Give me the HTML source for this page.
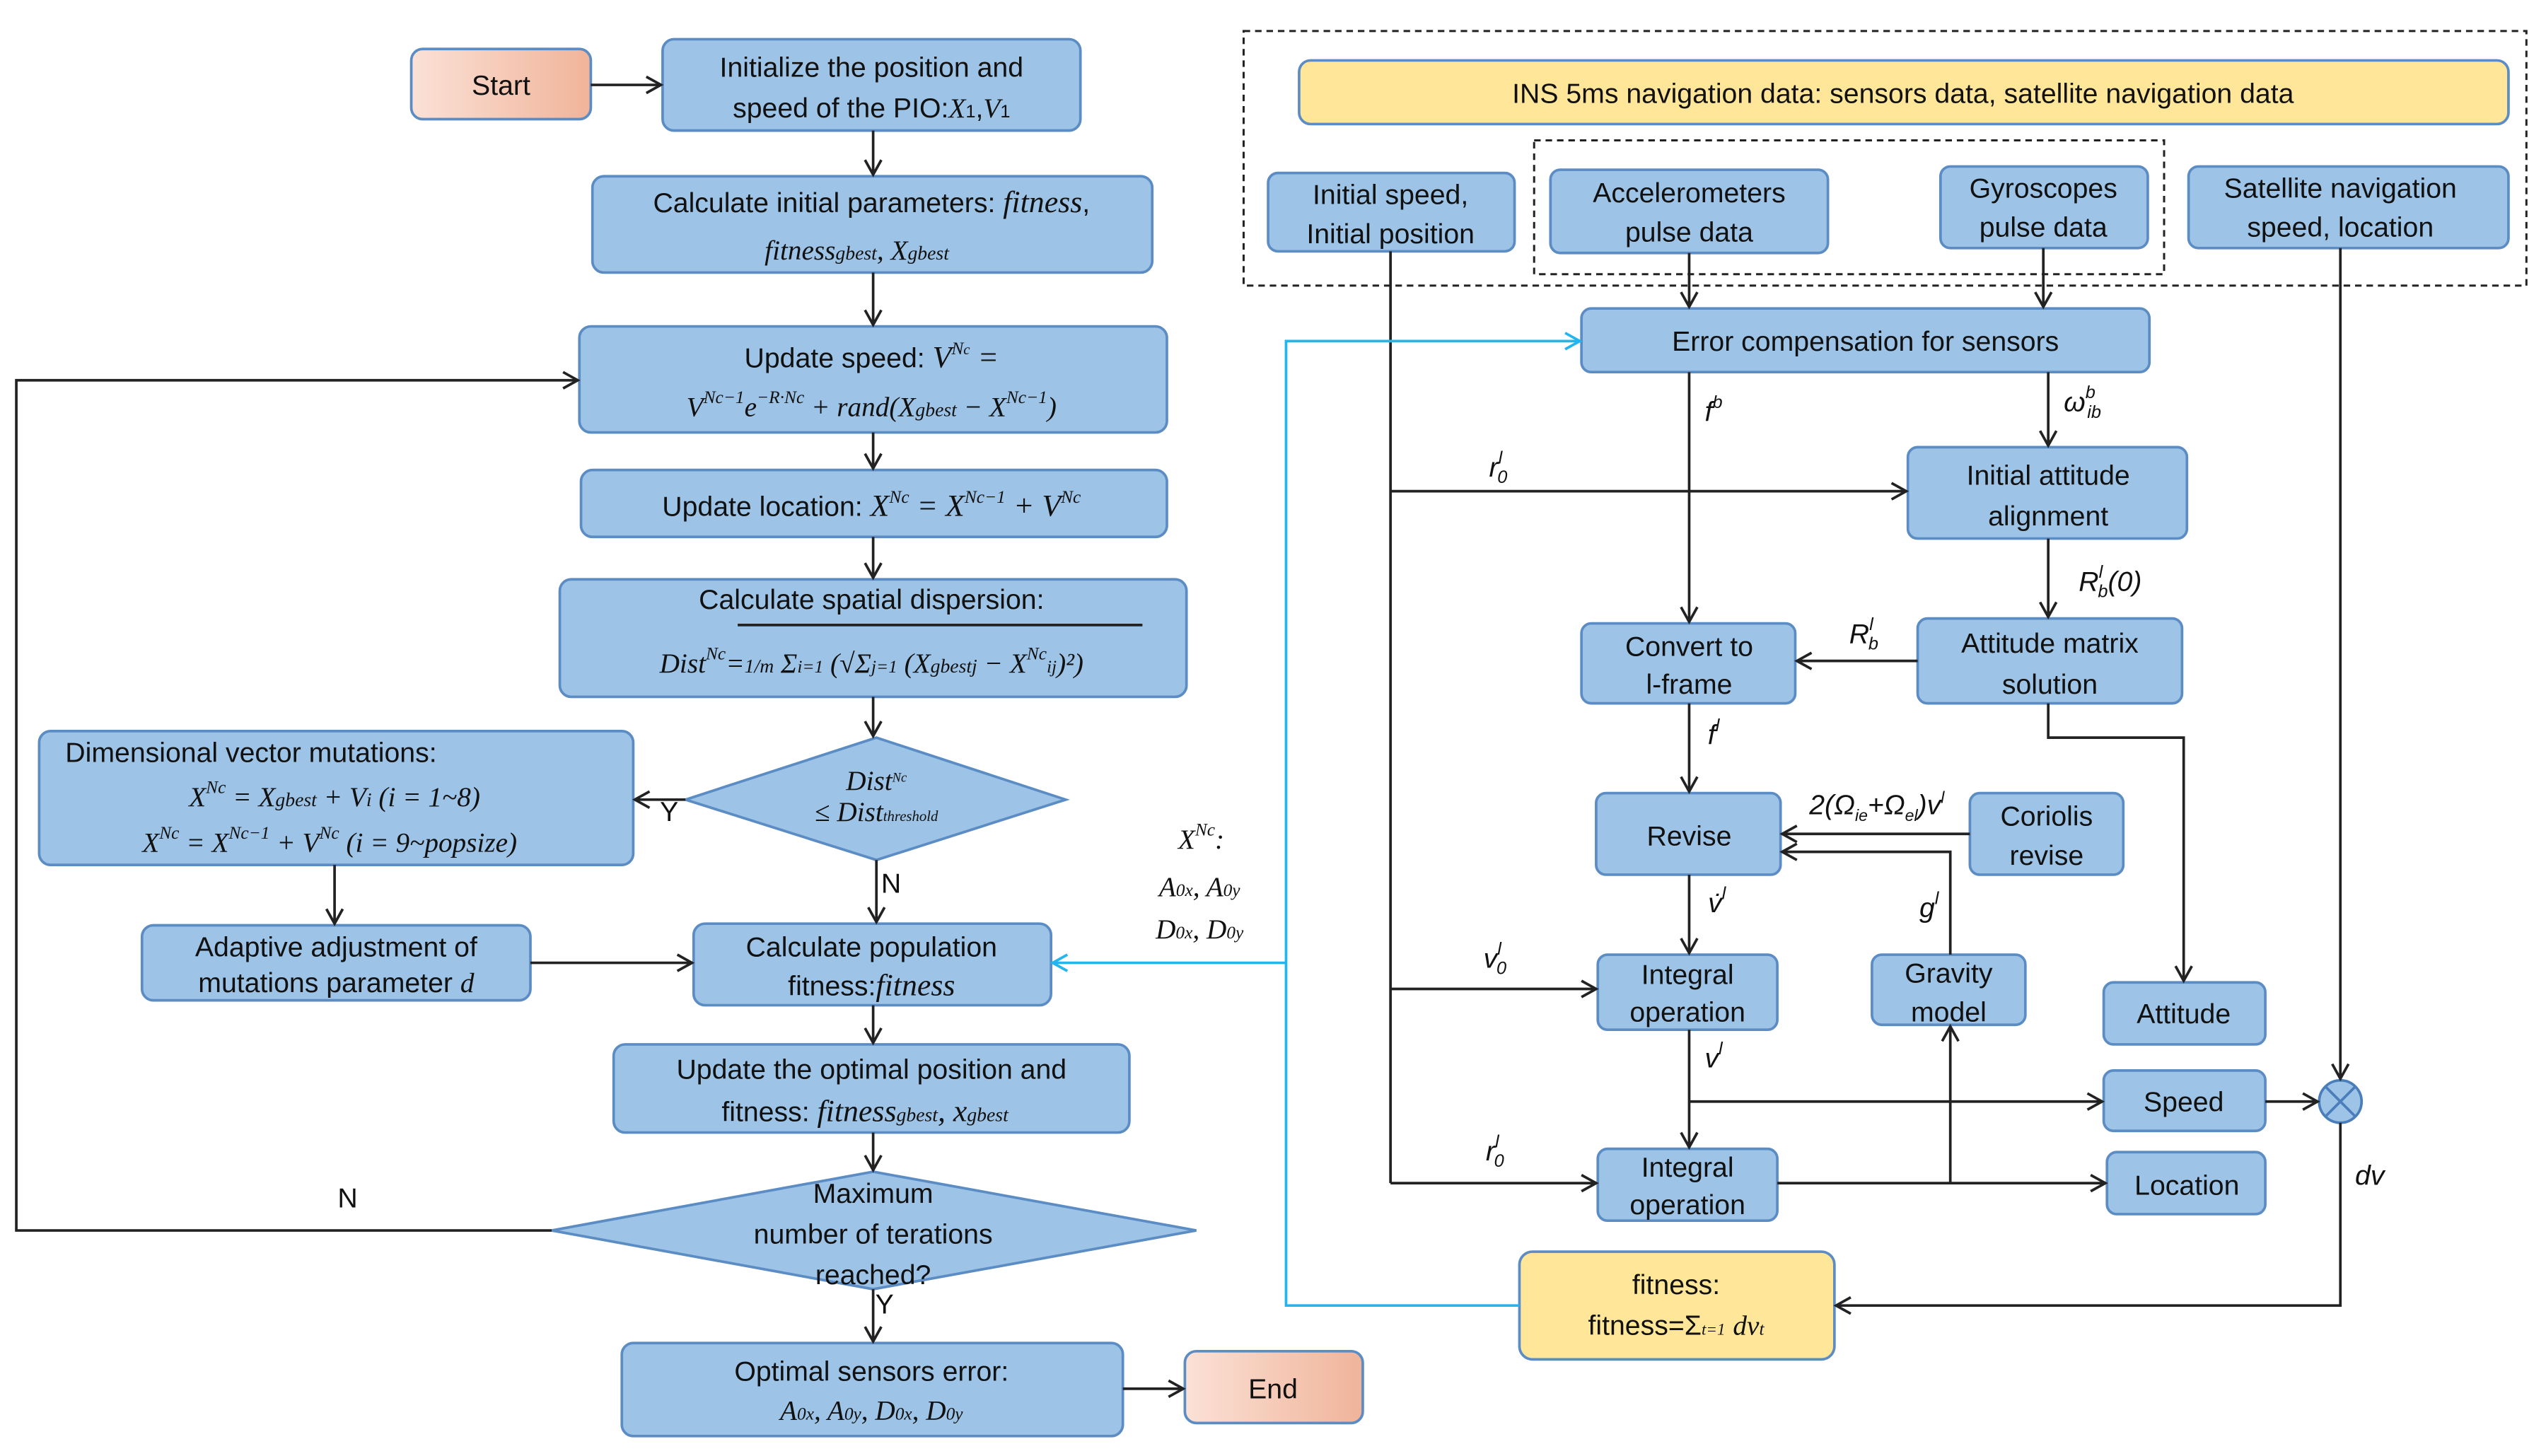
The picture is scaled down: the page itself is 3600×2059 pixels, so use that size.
<!DOCTYPE html>
<html><head><meta charset="utf-8"><style>
html,body{margin:0;padding:0;background:#fff}
svg{display:block}
text{font-family:"Liberation Sans",sans-serif;font-size:17px;fill:#111}
.m{font-family:"Liberation Serif",serif;font-style:italic}
.b{fill:#9dc3e6;stroke:#5b8cc4;stroke-width:1.6}
.y{fill:#ffe699;stroke:#5b8cc4;stroke-width:1.6}
.l{stroke:#222;stroke-width:1.6;fill:none}
.c{stroke:#22b5f0;stroke-width:1.6;fill:none}
</style></head><body>
<svg width="3600" height="2059" viewBox="0 0 1560 892.2" xmlns="http://www.w3.org/2000/svg">
<defs>
<linearGradient id="pg" x1="0" x2="1"><stop offset="0" stop-color="#fbe1d6"/><stop offset="1" stop-color="#f0b49a"/></linearGradient>
<marker id="a" markerWidth="12" markerHeight="12" refX="10" refY="6" orient="auto" markerUnits="userSpaceOnUse"><path d="M1,1 L10,6 L1,11" fill="none" stroke="#222" stroke-width="1.6"/></marker>
<marker id="ac" markerWidth="12" markerHeight="12" refX="10" refY="6" orient="auto" markerUnits="userSpaceOnUse"><path d="M1,1 L10,6 L1,11" fill="none" stroke="#22b5f0" stroke-width="1.6"/></marker>
</defs>
<g text-anchor="middle">
<!-- LEFT -->
<rect x="252" y="30" width="110" height="43" rx="7" fill="url(#pg)" stroke="#5b8cc4" stroke-width="1.6"/>
<text x="307" y="58">Start</text>
<rect class="b" x="406" y="24" width="256" height="56" rx="7"/>
<text x="534" y="47">Initialize the position and</text>
<text x="534" y="72">speed of the PIO:<tspan class="m">X</tspan><tspan font-size="11">1</tspan>,<tspan class="m">V</tspan><tspan font-size="11">1</tspan></text>
<rect class="b" x="363" y="108" width="343" height="59" rx="7"/>
<text x="534" y="130">Calculate initial parameters: <tspan class="m" font-size="19">fitness</tspan>,</text>
<text x="525" y="159" class="m" font-size="19">fitness<tspan font-size="12">gbest</tspan>,  X<tspan font-size="12">gbest</tspan></text>
<rect class="b" x="355" y="200" width="360" height="65" rx="7"/>
<text x="534" y="225">Update speed:  <tspan class="m" font-size="19">V<tspan font-size="11" dy="-8">N</tspan><tspan font-size="9">c</tspan><tspan dy="8"> =</tspan></tspan></text>
<text x="534" y="255" class="m" font-size="19">V<tspan font-size="11" dy="-8">Nc−1</tspan><tspan dy="8">e</tspan><tspan font-size="11" dy="-8">−R·Nc</tspan><tspan dy="8"> + rand(X</tspan><tspan font-size="12">gbest</tspan> − X<tspan font-size="11" dy="-8">Nc−1</tspan><tspan dy="8">)</tspan></text>
<rect class="b" x="356" y="288" width="359" height="41" rx="7"/>
<text x="534" y="316">Update location:  <tspan class="m" font-size="19">X<tspan font-size="11" dy="-8">Nc</tspan><tspan dy="8"> = X</tspan><tspan font-size="11" dy="-8">Nc−1</tspan><tspan dy="8"> + V</tspan><tspan font-size="11" dy="-8">Nc</tspan></tspan></text>
<rect class="b" x="343" y="355" width="384" height="72" rx="7"/>
<text x="534" y="373">Calculate spatial dispersion:</text>
<text x="534" y="412" class="m" font-size="19">Dist<tspan font-size="11" dy="-8">Nc</tspan><tspan dy="8">=</tspan><tspan font-size="12">1/m</tspan> Σ<tspan font-size="11">i=1</tspan> (√Σ<tspan font-size="11">j=1</tspan> (X<tspan font-size="12">gbestj</tspan> − X<tspan font-size="11" dy="-8">Nc</tspan><tspan font-size="11" dy="8">ij</tspan>)²)</text>
<path class="l" d="M452,383 H700"/>
<polygon class="b" points="537,452 653,490 537,527 420,490"/>
<text x="537" y="484" class="m" font-size="12">Dist<tspan font-size="8" dy="-5">Nc</tspan></text>
<text x="537" y="503" class="m" font-size="12"><tspan>≤ Dist</tspan><tspan font-size="9">threshold</tspan></text>
<rect class="b" x="24" y="448" width="364" height="82" rx="7"/>
<text x="40" y="467" text-anchor="start">Dimensional vector mutations:</text>
<text x="205" y="494" class="m" font-size="19">X<tspan font-size="11" dy="-8">Nc</tspan><tspan dy="8"> = X</tspan><tspan font-size="12">gbest</tspan> + V<tspan font-size="12">i</tspan>  (i = 1~8)</text>
<text x="202" y="522" class="m" font-size="19">X<tspan font-size="11" dy="-8">Nc</tspan><tspan dy="8"> = X</tspan><tspan font-size="11" dy="-8">Nc−1</tspan><tspan dy="8"> + V</tspan><tspan font-size="11" dy="-8">Nc</tspan><tspan dy="8">  (i = 9~popsize)</tspan></text>
<rect class="b" x="87" y="567" width="238" height="46" rx="7"/>
<text x="206" y="586">Adaptive adjustment of</text>
<text x="206" y="608">mutations parameter <tspan class="m">d</tspan></text>
<rect class="b" x="425" y="566" width="219" height="50" rx="7"/>
<text x="534" y="586">Calculate population</text>
<text x="534" y="610">fitness:<tspan class="m" font-size="19">fitness</tspan></text>
<rect class="b" x="376" y="640" width="316" height="54" rx="7"/>
<text x="534" y="661">Update the optimal position and</text>
<text x="530" y="687">fitness:  <tspan class="m" font-size="19">fitness<tspan font-size="12">gbest</tspan>,  x<tspan font-size="12">gbest</tspan></tspan></text>
<polygon class="b" points="535,718 733,754 535,790 338,754"/>
<text x="535" y="737">Maximum</text>
<text x="535" y="762">number of terations</text>
<text x="535" y="787">reached?</text>
<rect class="b" x="381" y="823" width="307" height="57" rx="7"/>
<text x="534" y="846">Optimal sensors error:</text>
<text x="534" y="870" class="m" font-size="18">A<tspan font-size="11">0x</tspan>, A<tspan font-size="11">0y</tspan>, D<tspan font-size="11">0x</tspan>, D<tspan font-size="11">0y</tspan></text>
<rect x="726" y="828" width="109" height="44" rx="7" fill="url(#pg)" stroke="#5b8cc4" stroke-width="1.6"/>
<text x="780" y="857">End</text>
<!-- left arrows -->
<path class="l" marker-end="url(#a)" d="M362,52 H405"/>
<path class="l" marker-end="url(#a)" d="M535,80 V107"/>
<path class="l" marker-end="url(#a)" d="M535,167 V199"/>
<path class="l" marker-end="url(#a)" d="M535,265 V287"/>
<path class="l" marker-end="url(#a)" d="M535,329 V354"/>
<path class="l" marker-end="url(#a)" d="M535,427 V451"/>
<path class="l" marker-end="url(#a)" d="M537,527 V565"/>
<path class="l" marker-end="url(#a)" d="M535,616 V639"/>
<path class="l" marker-end="url(#a)" d="M535,694 V717"/>
<path class="l" marker-end="url(#a)" d="M535,790 V822"/>
<path class="l" marker-end="url(#a)" d="M688,851 H725"/>
<path class="l" marker-end="url(#a)" d="M420,490 H389"/>
<path class="l" marker-end="url(#a)" d="M205,530 V566"/>
<path class="l" marker-end="url(#a)" d="M325,590 H424"/>
<path class="l" marker-end="url(#a)" d="M338,754 H10 V233 H354"/>
<text x="213" y="740" font-size="14">N</text>
<text x="410" y="503" font-size="14">Y</text>
<text x="546" y="547" font-size="14">N</text>
<text x="542" y="805" font-size="14">Y</text>
<text x="736" y="520" class="m" font-size="18">X<tspan font-size="11" dy="-8">Nc</tspan><tspan dy="8">:</tspan></text>
<text x="735" y="549" class="m" font-size="17">A<tspan font-size="11">0x</tspan>, A<tspan font-size="11">0y</tspan></text>
<text x="735" y="575" class="m" font-size="17">D<tspan font-size="11">0x</tspan>, D<tspan font-size="11">0y</tspan></text>
<!-- RIGHT -->
<rect x="762" y="19" width="786" height="156" fill="none" stroke="#222" stroke-width="1.3" stroke-dasharray="4,3"/>
<rect x="940" y="86" width="386" height="82" fill="none" stroke="#222" stroke-width="1.3" stroke-dasharray="4,3"/>
<rect class="y" x="796" y="37" width="741" height="39" rx="7"/>
<text x="1166" y="63">INS 5ms navigation data: sensors data, satellite navigation data</text>
<rect class="b" x="777" y="106" width="151" height="48" rx="6"/>
<text x="852" y="125">Initial speed,</text><text x="852" y="149">Initial position</text>
<rect class="b" x="950" y="104" width="170" height="51" rx="6"/>
<text x="1035" y="124">Accelerometers</text><text x="1035" y="148">pulse data</text>
<rect class="b" x="1189" y="102" width="127" height="50" rx="6"/>
<text x="1252" y="121">Gyroscopes</text><text x="1252" y="145">pulse data</text>
<rect class="b" x="1341" y="102" width="196" height="50" rx="6"/>
<text x="1434" y="121">Satellite navigation</text><text x="1434" y="145">speed, location</text>
<rect class="b" x="969" y="189" width="348" height="39" rx="6"/>
<text x="1143" y="215">Error compensation for sensors</text>
<rect class="b" x="1169" y="274" width="171" height="56" rx="6"/>
<text x="1255" y="297">Initial attitude</text><text x="1255" y="322">alignment</text>
<rect class="b" x="1175" y="379" width="162" height="52" rx="6"/>
<text x="1256" y="400">Attitude matrix</text><text x="1256" y="425">solution</text>
<rect class="b" x="969" y="382" width="131" height="49" rx="6"/>
<text x="1035" y="402">Convert to</text><text x="1035" y="425">l-frame</text>
<rect class="b" x="978" y="486" width="113" height="50" rx="6"/>
<text x="1035" y="518">Revise</text>
<rect class="b" x="1207" y="486" width="94" height="50" rx="6"/>
<text x="1254" y="506">Coriolis</text><text x="1254" y="530">revise</text>
<rect class="b" x="979" y="585" width="110" height="46" rx="6"/>
<text x="1034" y="603">Integral</text><text x="1034" y="626">operation</text>
<rect class="b" x="1147" y="585" width="94" height="43" rx="6"/>
<text x="1194" y="602">Gravity</text><text x="1194" y="626">model</text>
<rect class="b" x="1289" y="602" width="99" height="38" rx="6"/>
<text x="1338" y="627">Attitude</text>
<rect class="b" x="1289" y="656" width="99" height="37" rx="6"/>
<text x="1338" y="681">Speed</text>
<rect class="b" x="1291" y="706" width="97" height="38" rx="6"/>
<text x="1340" y="732">Location</text>
<rect class="b" x="979" y="704" width="110" height="44" rx="6"/>
<text x="1034" y="721">Integral</text><text x="1034" y="744">operation</text>
<rect class="y" x="931" y="767" width="193" height="66" rx="8"/>
<text x="1027" y="793">fitness:</text>
<text x="1027" y="818">fitness=Σ<tspan font-size="10" class="m">t=1</tspan> <tspan class="m">dv<tspan font-size="11">t</tspan></tspan></text>
<circle cx="1434" cy="675" r="13" fill="#9dc3e6" stroke="#4a7ebb" stroke-width="1.6"/>
<path d="M1425,666 L1443,684 M1443,666 L1425,684" stroke="#4a7ebb" stroke-width="1.6"/>
<!-- right lines -->
<path class="l" d="M852,154 V725"/>
<path class="l" marker-end="url(#a)" d="M852,301 H1168"/>
<path class="l" marker-end="url(#a)" d="M852,606 H978"/>
<path class="l" marker-end="url(#a)" d="M852,725 H978"/>
<path class="l" marker-end="url(#a)" d="M1035,155 V188"/>
<path class="l" marker-end="url(#a)" d="M1252,152 V188"/>
<path class="l" marker-end="url(#a)" d="M1035,228 V381"/>
<path class="l" marker-end="url(#a)" d="M1255,228 V273"/>
<path class="l" marker-end="url(#a)" d="M1255,330 V378"/>
<path class="l" marker-end="url(#a)" d="M1175,405 H1101"/>
<path class="l" marker-end="url(#a)" d="M1255,431 V452 H1338 V601"/>
<path class="l" marker-end="url(#a)" d="M1035,431 V485"/>
<path class="l" marker-end="url(#a)" d="M1207,511 H1092"/>
<path class="l" marker-end="url(#a)" d="M1195,585 V522 H1092"/>
<path class="l" marker-end="url(#a)" d="M1035,536 V584"/>
<path class="l" marker-end="url(#a)" d="M1035,631 V703"/>
<path class="l" marker-end="url(#a)" d="M1035,675 H1288"/>
<path class="l" marker-end="url(#a)" d="M1089,725 H1290"/>
<path class="l" marker-end="url(#a)" d="M1195,725 V629"/>
<path class="l" marker-end="url(#a)" d="M1388,675 H1420"/>
<path class="l" marker-end="url(#a)" d="M1434,152 V661"/>
<path class="l" marker-end="url(#a)" d="M1434,688 V800 H1125"/>
<path class="c" marker-end="url(#ac)" d="M931,800 H788 V209 H968"/>
<path class="c" marker-end="url(#ac)" d="M788,590 H645"/>
<!-- right labels -->
<g class="m" font-size="18">
<text x="918" y="292">r<tspan font-size="11" dy="-8">l</tspan><tspan font-size="11" dx="-3" dy="12">0</tspan></text>
<text x="916" y="593">v<tspan font-size="11" dy="-8">l</tspan><tspan font-size="11" dx="-3" dy="12">0</tspan></text>
<text x="916" y="711">r<tspan font-size="11" dy="-8">l</tspan><tspan font-size="11" dx="-3" dy="12">0</tspan></text>
<text x="1050" y="258">f<tspan font-size="11" dy="-8">b</tspan></text>
<text x="1276" y="252">ω<tspan font-size="11" dy="-8">b</tspan><tspan font-size="11" dx="-5" dy="12">ib</tspan></text>
<text x="1293" y="362">R<tspan font-size="11" dy="-8">l</tspan><tspan font-size="11" dx="-3" dy="12">b</tspan><tspan dy="-4">(0)</tspan></text>
<text x="1142" y="394">R<tspan font-size="11" dy="-8">l</tspan><tspan font-size="11" dx="-3" dy="12">b</tspan></text>
<text x="1050" y="456">f<tspan font-size="11" dy="-8">l</tspan></text>
<text x="1150" y="499" font-size="16">2(Ω<tspan font-size="10" dy="4">ie</tspan><tspan dy="-4">+Ω</tspan><tspan font-size="10" dy="4">el</tspan><tspan dy="-4">)v</tspan><tspan font-size="10" dy="-7">l</tspan></text>
<text x="1052" y="559">v̇<tspan font-size="11" dy="-8">l</tspan></text>
<text x="1182" y="562">g<tspan font-size="11" dy="-8">l</tspan></text>
<text x="1050" y="654">v<tspan font-size="11" dy="-8">l</tspan></text>
<text x="1452" y="726">dv</text>
</g>
</g>
</svg>
</body></html>
